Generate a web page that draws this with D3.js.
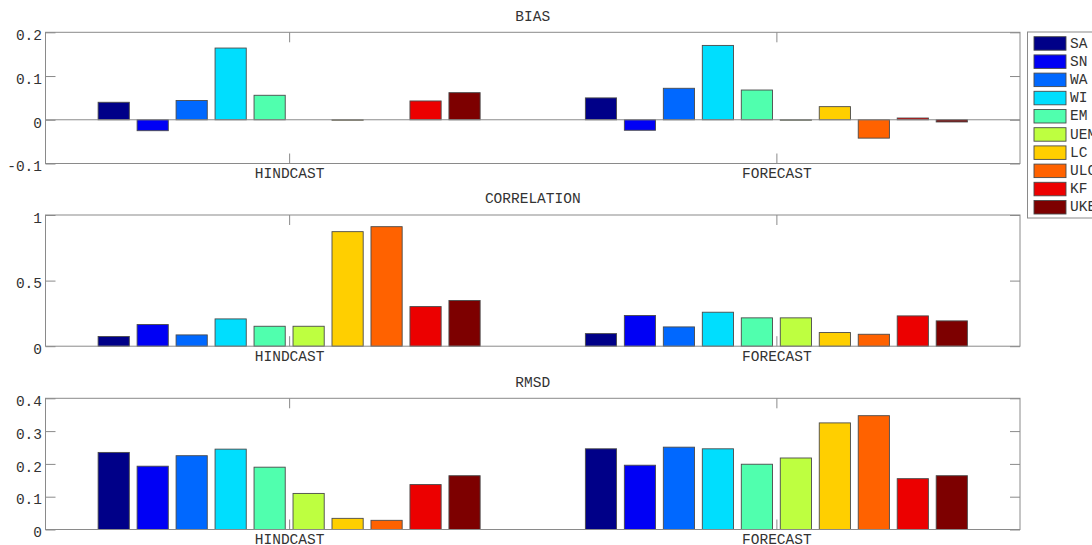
<!DOCTYPE html>
<html>
<head>
<meta charset="utf-8">
<script src="https://cdn.jsdelivr.net/npm/d3@7"></script>
<style>
  html, body { margin: 0; padding: 0; background: #fff; overflow: hidden; }
  svg { display: block; }
  text { font-family: "Liberation Mono", "DejaVu Sans Mono", monospace; fill: #333; }
</style>
</head>
<body>
<svg id="chart" width="1092" height="545"></svg>
<script>
// Models (one bar each) and the two evaluation periods
const models = ["SA", "SN", "WA", "WI", "EM", "UEM", "LC", "ULC", "KF", "UKE"];
const periods = ["HINDCAST", "FORECAST"];
const modelColors = ["#000088", "#0000f5", "#0068ff", "#00defe", "#50ffae",
                     "#beff40", "#ffcf00", "#ff6200", "#ec0000", "#7d0000"];

// Scores per model, hindcast and forecast (null = no value)
const biasHindcast = [0.040, -0.025, 0.044, 0.164, 0.056, null, -0.001, null, 0.043, 0.062];
const biasForecast = [0.050, -0.024, 0.072, 0.170, 0.068, -0.001, 0.030, -0.042, 0.004, -0.005];
const corrHindcast = [0.074, 0.165, 0.086, 0.208, 0.152, 0.152, 0.873, 0.911, 0.302, 0.348];
const corrForecast = [0.096, 0.234, 0.147, 0.259, 0.216, 0.216, 0.104, 0.091, 0.231, 0.193];
const rmsdHindcast = [0.235, 0.193, 0.225, 0.245, 0.190, 0.110, 0.034, 0.028, 0.137, 0.164];
const rmsdForecast = [0.246, 0.196, 0.251, 0.246, 0.199, 0.218, 0.325, 0.347, 0.155, 0.164];

// Axis settings per panel
const biasTicks = [-0.1, 0, 0.1, 0.2];
const corrTicks = [0, 0.5, 1];
const rmsdTicks = [0, 0.1, 0.2, 0.3, 0.4];

const panels = [
  { title: "BIAS", values: [biasHindcast, biasForecast], domain: [-0.1, 0.2], ticks: biasTicks },
  { title: "CORRELATION", values: [corrHindcast, corrForecast], domain: [0, 1], ticks: corrTicks },
  { title: "RMSD", values: [rmsdHindcast, rmsdForecast], domain: [0, 0.4], ticks: rmsdTicks }
];

const svg = d3.select("#chart");
const axisColor = "#8a8a8a";
const edgeColor = "#4a4a4a";
const fontSize = 14.5;

const left = 45.5, right = 1020;
const panelTops = [32.3, 215, 398.3];
const panelH = 131.2;

// Group positions on a numeric axis (groups at 1 and 2, limits 0.5..2.5)
const xNum = d3.scaleLinear().domain([0.5, 2.5]).range([left, right]);
// Bar offsets within a group, in the same units
const xInner = d3.scaleBand().domain(models).range([-0.392, 0.392]).paddingInner(0.2).paddingOuter(0);

const fmt = d => d === 0 ? "0" : String(+d.toFixed(2));

panels.forEach((p, pi) => {
  const top = panelTops[pi], bottom = top + panelH;
  const y = d3.scaleLinear().domain(p.domain).range([bottom, top]);
  const g = svg.append("g");

  // Bars
  p.values.forEach((series, gi) => {
    const center = gi + 1;
    series.forEach((v, mi) => {
      if (v === null) return;
      const x0 = xNum(center + xInner(models[mi]));
      const x1 = xNum(center + xInner(models[mi]) + xInner.bandwidth());
      const y0 = y(Math.max(0, v)), y1 = y(Math.min(0, v));
      g.append("rect")
        .attr("x", x0).attr("y", y0)
        .attr("width", x1 - x0).attr("height", Math.max(0, y1 - y0))
        .attr("fill", modelColors[mi])
        .attr("stroke", edgeColor).attr("stroke-width", 0.9);
    });
  });

  // Baseline at zero
  if (p.domain[0] < 0) {
    g.append("line")
      .attr("x1", left).attr("x2", right)
      .attr("y1", y(0)).attr("y2", y(0))
      .attr("stroke", axisColor).attr("stroke-width", 1);
  }

  // Y axis on the left with inward ticks
  const ya = g.append("g").attr("transform", `translate(${left},0)`)
    .call(d3.axisLeft(y).tickValues(p.ticks).tickFormat(fmt).tickSizeInner(-10).tickSizeOuter(0).tickPadding(3.5));
  ya.select(".domain").remove();
  ya.selectAll("line").attr("stroke", axisColor);
  ya.selectAll("text").attr("font-size", fontSize).attr("dy", "0.5em")
    .style("font-family", "'Liberation Mono', monospace").attr("fill", "#333");

  // Right axis: ticks only
  const yr = g.append("g").attr("transform", `translate(${right},0)`)
    .call(d3.axisRight(y).tickValues(p.ticks).tickFormat("").tickSizeInner(-10).tickSizeOuter(0));
  yr.select(".domain").remove();
  yr.selectAll("line").attr("stroke", axisColor);

  // Bottom axis with group labels
  const xb = g.append("g").attr("transform", `translate(0,${bottom})`)
    .call(d3.axisBottom(xNum).tickValues([1, 2]).tickFormat((d, i) => periods[i]).tickSizeInner(-10).tickSizeOuter(0).tickPadding(4.5));
  xb.select(".domain").remove();
  xb.selectAll("line").attr("stroke", axisColor);
  xb.selectAll("text").attr("font-size", fontSize)
    .style("font-family", "'Liberation Mono', monospace").attr("fill", "#333");

  // Top axis: ticks only
  const xt = g.append("g").attr("transform", `translate(0,${top})`)
    .call(d3.axisTop(xNum).tickValues([1, 2]).tickFormat("").tickSizeInner(-10).tickSizeOuter(0));
  xt.select(".domain").remove();
  xt.selectAll("line").attr("stroke", axisColor);

  // Axes box
  g.append("rect")
    .attr("x", left).attr("y", top)
    .attr("width", right - left).attr("height", panelH)
    .attr("fill", "none").attr("stroke", axisColor).attr("stroke-width", 1);

  // Title
  g.append("text")
    .attr("x", (left + right) / 2).attr("y", top - 15.8)
    .attr("text-anchor", "middle").attr("dominant-baseline", "central")
    .attr("font-size", fontSize)
    .text(p.title);
});

// Legend
const lg = svg.append("g");
const legX = 1027.5, legY = 32, rowH = 18.2;
lg.append("rect")
  .attr("x", legX).attr("y", legY)
  .attr("width", 90).attr("height", 186)
  .attr("fill", "#fff").attr("stroke", axisColor).attr("stroke-width", 1);
models.forEach((m, i) => {
  const ty = legY + 4.7 + i * rowH;
  lg.append("rect")
    .attr("x", 1034).attr("y", ty)
    .attr("width", 32).attr("height", 13.5)
    .attr("fill", modelColors[i]).attr("stroke", edgeColor).attr("stroke-width", 0.9);
  lg.append("text")
    .attr("x", 1070).attr("y", ty + 6.9)
    .attr("dominant-baseline", "central")
    .attr("font-size", fontSize)
    .text(m);
});
</script>
</body>
</html>
